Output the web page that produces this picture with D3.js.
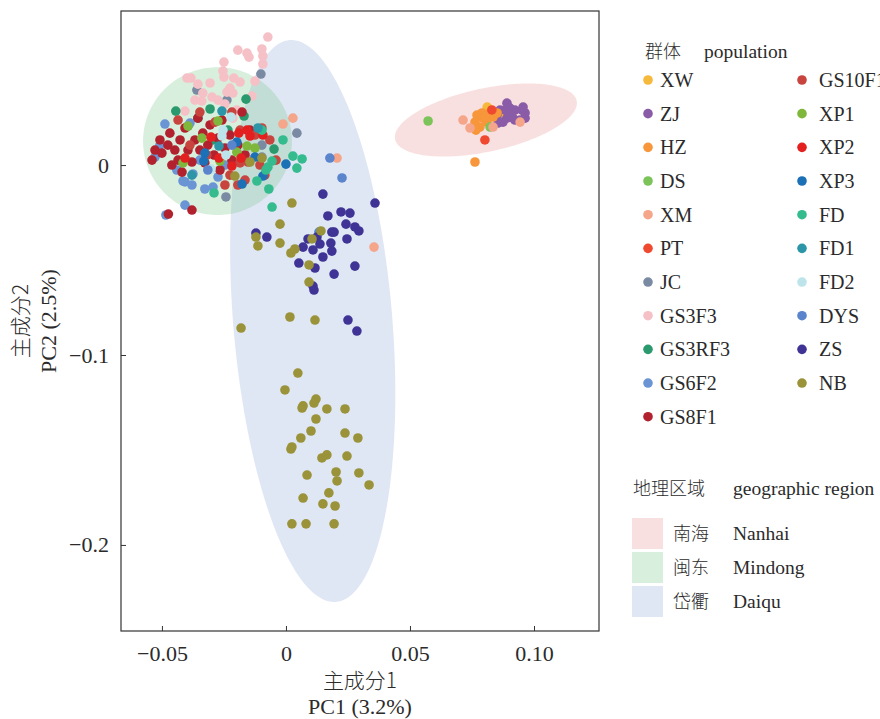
<!DOCTYPE html>
<html>
<head>
<meta charset="utf-8">
<script src="https://cdn.jsdelivr.net/npm/d3@7"></script>
<style>
  body { margin: 0; background: #fff; }
  svg text { font-family: "Liberation Serif", "Noto Sans CJK SC", serif; fill: #2b2b2b; }
  .cjk { font-family: "Noto Sans CJK SC", sans-serif; font-weight: 300; }
</style>
</head>
<body>
<svg id="chart" width="880" height="719"></svg>
<script>
// populations, colours (legend order)
var populations = ["XW","ZJ","HZ","DS","XM","PT","JC","GS3F3","GS3RF3","GS6F2","GS8F1",
                   "GS10F1","XP1","XP2","XP3","FD","FD1","FD2","DYS","ZS","NB"];
var popColors = ["#f6b93b","#8a5ca8","#f7963a","#7cc35a","#f4a58a","#ef4a30","#7a8aa3","#f6c1c6","#2a9a6e","#6a94d4","#b2222e",
                 "#c8453f","#7fb73c","#e3201f","#1c70b5","#34bb8e","#2c96a8","#bde4ea","#5a84cc","#3f3496","#9a9339"];

// PC1 / PC2 scores
var XW = [[0.0815,0.0300],[0.0855,0.0274],[0.0811,0.0305],[0.0863,0.0253]];
var ZJ = [[0.0883,0.0289],[0.0903,0.0300],[0.0923,0.0289],[0.0952,0.0289],[0.0964,0.0274],[0.0964,0.0247],
          [0.0944,0.0237],[0.0915,0.0247],[0.0891,0.0247],[0.0875,0.0226],[0.0855,0.0221],[0.0851,0.0263],
          [0.0863,0.0289],[0.0903,0.0263],[0.0891,0.0326],[0.0956,0.0305],[0.0923,0.0237],[0.0907,0.0279]];
var HZ = [[0.0770,0.0263],[0.0790,0.0274],[0.0794,0.0247],[0.0810,0.0226],[0.0762,0.0226],[0.0823,0.0274],
          [0.0835,0.0253],[0.0782,0.0200],[0.0851,0.0274],[0.0766,0.0184],[0.0762,0.0016],[0.0802,0.0253]];
var DS = [[0.0573,0.0232],[0.0823,0.0200]];
var XM = [[0.0714,0.0237],[0.0742,0.0195],[0.0835,0.0200],[0.0944,0.0226],[0.0206,0.0037],[0.0355,-0.0432],
          [-0.0012,0.0216],[0.0028,0.0247]];
var PT = [[0.0802,0.0132],[0.0830,0.0290]];
var JC = [[-0.0101,0.0479],[-0.0359,0.0395],[-0.0238,0.0342],[0.0044,0.0168],[-0.0097,0.0105],[-0.0097,0.0042],
          [-0.0242,-0.0168]];
var GS3F3 = [[-0.0073,0.0674],[-0.0194,0.0605],[-0.0157,0.0589],[-0.0149,0.0568],[-0.0097,0.0611],[-0.0093,0.0574],
             [-0.0093,0.0532],[-0.0250,0.0542],[-0.0254,0.0495],[-0.0250,0.0463],[-0.0399,0.0458],[-0.0383,0.0458],
             [-0.0355,0.0426],[-0.0306,0.0432],[-0.0210,0.0458],[-0.0185,0.0437],[-0.0125,0.0442],[-0.0226,0.0405],
             [-0.0238,0.0384],[-0.0335,0.0379],[-0.0298,0.0358],[-0.0214,0.0379],[-0.0137,0.0363],[-0.0407,0.0284],
             [-0.0367,0.0342],[-0.0339,0.0337],[-0.0198,0.0289],[-0.0214,0.0247],[-0.0274,0.0342],[-0.0246,0.0321]];
var GS3RF3 = [[-0.0161,0.0347],[-0.0444,0.0284],[-0.0306,0.0295],[-0.0048,0.0084],[-0.0355,0.0247],[-0.0395,0.0205],
              [-0.0234,0.0184],[-0.0169,0.0258],[-0.0294,0.0132]];
var GS6F2 = [[-0.0488,0.0216],[-0.0528,0.0042],[-0.0440,-0.0026],[-0.0407,-0.0089],[-0.0379,-0.0105],[-0.0327,-0.0126],
             [-0.0294,-0.0116],[-0.0274,-0.0063],[-0.0375,-0.0047],[-0.0407,-0.0211],[-0.0484,-0.0263],[-0.0387,0.0221],
             [-0.0415,-0.0084],[-0.0508,0.0105],[-0.0347,0.0026],[-0.0246,0.0000]];
var GS8F1 = [[-0.0528,0.0079],[-0.0508,0.0132],[-0.0500,0.0063],[-0.0476,0.0105],[-0.0468,0.0168],[-0.0448,0.0079],
             [-0.0435,0.0026],[-0.0427,0.0132],[-0.0407,0.0195],[-0.0395,0.0079],[-0.0379,0.0016],[-0.0367,0.0132],
             [-0.0355,0.0247],[-0.0347,0.0079],[-0.0335,0.0168],[-0.0327,0.0011],[-0.0315,0.0105],[-0.0306,0.0211],
             [-0.0290,0.0053],[-0.0274,0.0142],[-0.0266,-0.0026],[-0.0258,0.0237],[-0.0246,0.0089],[-0.0226,0.0158],
             [-0.0218,0.0026],[-0.0194,0.0105],[-0.0177,0.0279],[-0.0165,0.0053],[-0.0145,0.0184],[-0.0474,-0.0258],
             [-0.0379,-0.0237],[-0.0460,0.0000],[-0.0419,-0.0037],[-0.0540,0.0026]];
var GS10F1 = [[-0.0435,0.0237],[-0.0347,0.0279],[-0.0286,0.0226],[-0.0218,0.0279],[-0.0185,0.0184],[-0.0125,0.0158],
              [-0.0097,0.0195],[-0.0065,0.0132],[-0.0153,0.0016],[-0.0226,-0.0053],[-0.0105,0.0000],[-0.0165,-0.0079],
              [-0.0246,-0.0105],[-0.0194,-0.0105],[-0.0085,-0.0053],[-0.0387,0.0105],[-0.0319,0.0053],[-0.0185,0.0011],
              [-0.0040,0.0026]];
var XP1 = [[-0.0395,0.0205],[-0.0274,0.0232],[-0.0339,0.0142],[-0.0157,0.0100],[-0.0198,0.0068],[-0.0415,0.0011],
           [-0.0266,0.0021],[-0.0125,0.0089]];
var XP2 = [[-0.0302,0.0147],[-0.0190,0.0168],[-0.0145,0.0153],[-0.0093,0.0158],[-0.0270,0.0037],[-0.0218,-0.0005],
           [-0.0181,0.0037],[-0.0157,0.0184],[-0.0407,0.0037]];
var XP3 = [[-0.0327,0.0063],[-0.0198,0.0121],[-0.0125,0.0042],[-0.0093,-0.0058],[-0.0177,-0.0100],[0.0000,0.0005],
           [-0.0331,0.0021]];
var FD = [[-0.0012,0.0132],[-0.0097,0.0184],[-0.0056,0.0021],[-0.0073,-0.0011],[0.0028,0.0047],[0.0065,0.0032],
          [0.0044,-0.0016],[-0.0069,-0.0126],[-0.0056,-0.0221],[-0.0117,-0.0084],[-0.0290,-0.0147],[-0.0081,-0.0026]];
var FD1 = [[-0.0258,0.0284],[-0.0270,0.0100],[-0.0379,-0.0053],[-0.0113,0.0195]];
var FD2 = [[-0.0222,0.0253],[-0.0254,0.0184],[-0.0258,0.0153],[-0.0242,0.0053],[-0.0302,-0.0021]];
var DYS = [[0.0177,0.0037],[0.0226,-0.0068],[0.0133,-0.0353],[-0.0218,0.0105],[-0.0315,-0.0026]];
var ZS = [[0.0149,-0.0153],[0.0359,-0.0200],[0.0169,-0.0268],[0.0222,-0.0247],[0.0258,-0.0253],[0.0242,-0.0311],
          [0.0278,-0.0326],[0.0294,-0.0347],[-0.0121,-0.0358],[-0.0077,-0.0379],[0.0089,-0.0389],[0.0125,-0.0379],
          [0.0185,-0.0353],[0.0194,-0.0353],[0.0137,-0.0416],[0.0181,-0.0411],[0.0246,-0.0389],[0.0069,-0.0432],
          [0.0109,-0.0447],[0.0185,-0.0453],[0.0149,-0.0484],[0.0052,-0.0516],[0.0117,-0.0542],[0.0278,-0.0532],
          [0.0194,-0.0574],[0.0109,-0.0637],[0.0113,-0.0658],[0.0250,-0.0816],[0.0286,-0.0874]];
var NB = [[0.0024,-0.0200],[-0.0024,-0.0311],[-0.0121,-0.0379],[-0.0113,-0.0426],[-0.0024,-0.0411],[0.0020,-0.0463],
          [0.0036,-0.0442],[0.0141,-0.0347],[0.0105,-0.0389],[0.0093,-0.0526],[0.0093,-0.0616],[0.0016,-0.0800],
          [0.0117,-0.0816],[-0.0181,-0.0858],[0.0048,-0.1095],[-0.0004,-0.1184],[0.0121,-0.1232],[0.0113,-0.1253],
          [0.0065,-0.1279],[0.0069,-0.1268],[0.0165,-0.1284],[0.0238,-0.1284],[0.0121,-0.1337],[0.0101,-0.1400],
          [0.0060,-0.1437],[0.0238,-0.1411],[0.0290,-0.1437],[0.0020,-0.1495],[0.0024,-0.1484],[0.0145,-0.1542],
          [0.0165,-0.1526],[0.0246,-0.1532],[0.0085,-0.1632],[0.0202,-0.1616],[0.0206,-0.1663],[0.0294,-0.1621],
          [0.0335,-0.1684],[0.0173,-0.1726],[0.0069,-0.1753],[0.0149,-0.1784],[0.0198,-0.1795],[0.0024,-0.1889],
          [0.0081,-0.1889],[0.0194,-0.1889],[-0.0206,-0.0058],[-0.0145,0.0016],[-0.0097,0.0037]];
var popPoints = [XW,ZJ,HZ,DS,XM,PT,JC,GS3F3,GS3RF3,GS6F2,GS8F1,GS10F1,XP1,XP2,XP3,FD,FD1,FD2,DYS,ZS,NB];

// geographic regions and their confidence ellipses (centre, two semi-axis vectors, data units)
var regionCn = ["南海","闽东","岱衢"];
var regionEn = ["Nanhai","Mindong","Daiqu"];
var regionColors = ["#eb9898","#7dca8e","#94acda"];
var ellCenter = [[0.0806,0.0237],[-0.0276,0.0126],[0.0108,-0.0821]];
var ellAxisU = [[0.0366,0.0102],[0.0300,0],[-0.0092,0.1479]];
var ellAxisV = [[0.0027,-0.0163],[0,0.0389],[0.0320,0.0027]];
var drawOrder = [2,1,0];

var xTicks = [-0.05, 0, 0.05, 0.10], xTickLabels = ["\u22120.05","0","0.05","0.10"];
var yTicks = [0, -0.1, -0.2], yTickLabels = ["0","\u22120.1","\u22120.2"];

var svg = d3.select("#chart");
var m = {left:121, top:11, right:599, bottom:631};
var x = d3.scaleLinear().domain([-0.0665, 0.1262]).range([m.left, m.right]);
var y = d3.scaleLinear().domain([-0.2453, 0.0811]).range([m.bottom, m.top]);

// ellipses
var line = d3.line().x(function(p){return x(p[0]);}).y(function(p){return y(p[1]);}).curve(d3.curveLinearClosed);
drawOrder.forEach(function(i){
    var pts = d3.range(0, 360, 2).map(function(deg){
        var t = deg*Math.PI/180, c = Math.cos(t), s = Math.sin(t);
        return [ellCenter[i][0] + ellAxisU[i][0]*c + ellAxisV[i][0]*s,
                ellCenter[i][1] + ellAxisU[i][1]*c + ellAxisV[i][1]*s];
    });
    svg.append("path").attr("d", line(pts))
       .attr("fill", regionColors[i]).attr("fill-opacity", 0.3);
});

// points
var g = svg.append("g");
populations.forEach(function(p, i){
    g.selectAll(null).data(popPoints[i]).enter().append("circle")
      .attr("cx", function(d){return x(d[0]);})
      .attr("cy", function(d){return y(d[1]);})
      .attr("r", 4.8)
      .attr("fill", popColors[i]);
});

// axes
var xAxis = svg.append("g").attr("transform","translate(0,"+m.bottom+")")
   .call(d3.axisBottom(x).tickValues(xTicks).tickFormat(function(d,i){return xTickLabels[i];})
         .tickSizeInner(-5).tickSizeOuter(0).tickPadding(14));
var yAxis = svg.append("g").attr("transform","translate("+m.left+",0)")
   .call(d3.axisLeft(y).tickValues(yTicks).tickFormat(function(d,i){return yTickLabels[i];})
         .tickSizeInner(-5).tickSizeOuter(0).tickPadding(12));
[xAxis, yAxis].forEach(function(a){
    a.attr("font-family", null);
    a.select(".domain").remove();
    a.selectAll("line").attr("stroke","#333");
    a.selectAll("text").style("font-size","22px").style("font-family","'Liberation Serif', serif").attr("fill","#2b2b2b");
});
svg.append("rect").attr("x",m.left).attr("y",m.top)
   .attr("width",m.right-m.left).attr("height",m.bottom-m.top)
   .attr("fill","none").attr("stroke","#333").attr("stroke-width",1.2);

// axis titles
var cx = (m.left+m.right)/2, cy = (m.top+m.bottom)/2;
svg.append("text").attr("class","cjk").attr("x",cx).attr("y",688).attr("text-anchor","middle")
   .style("font-size","21px").text("主成分1");
svg.append("text").attr("x",cx).attr("y",714).attr("text-anchor","middle")
   .style("font-size","22px").text("PC1 (3.2%)");
svg.append("text").attr("class","cjk").attr("transform","translate(28,"+cy+") rotate(-90)")
   .attr("text-anchor","middle").style("font-size","21px").text("主成分2");
svg.append("text").attr("transform","translate(56,"+cy+") rotate(-90)")
   .attr("text-anchor","middle").style("font-size","22px").text("PC2 (2.5%)");

// population legend
var leg = svg.append("g");
leg.append("text").attr("class","cjk").attr("x",645).attr("y",58).style("font-size","18px").text("群体");
leg.append("text").attr("x",704).attr("y",58).style("font-size","19.5px").text("population");
populations.forEach(function(p, i){
    var col = i < 11 ? 0 : 1, row = i < 11 ? i : i - 11;
    var yy = 80 + row*33.67, xx = col ? 802 : 648;
    leg.append("circle").attr("cx",xx).attr("cy",yy).attr("r",4.8).attr("fill",popColors[i]);
    leg.append("text").attr("x",xx + (col ? 17 : 12)).attr("y",yy+7).style("font-size","20px").text(p);
});

// region legend
leg.append("text").attr("class","cjk").attr("x",633).attr("y",495).style("font-size","18px").text("地理区域");
leg.append("text").attr("x",733).attr("y",495).style("font-size","19.5px").text("geographic region");
regionCn.forEach(function(r, i){
    var yy = 518 + i*34;
    leg.append("rect").attr("x",632).attr("y",yy).attr("width",31).attr("height",31)
       .attr("fill",regionColors[i]).attr("fill-opacity",0.3);
    leg.append("text").attr("class","cjk").attr("x",673).attr("y",yy+22).style("font-size","18px").text(r);
    leg.append("text").attr("x",733).attr("y",yy+22).style("font-size","19.5px").text(regionEn[i]);
});
</script>
</body>
</html>
